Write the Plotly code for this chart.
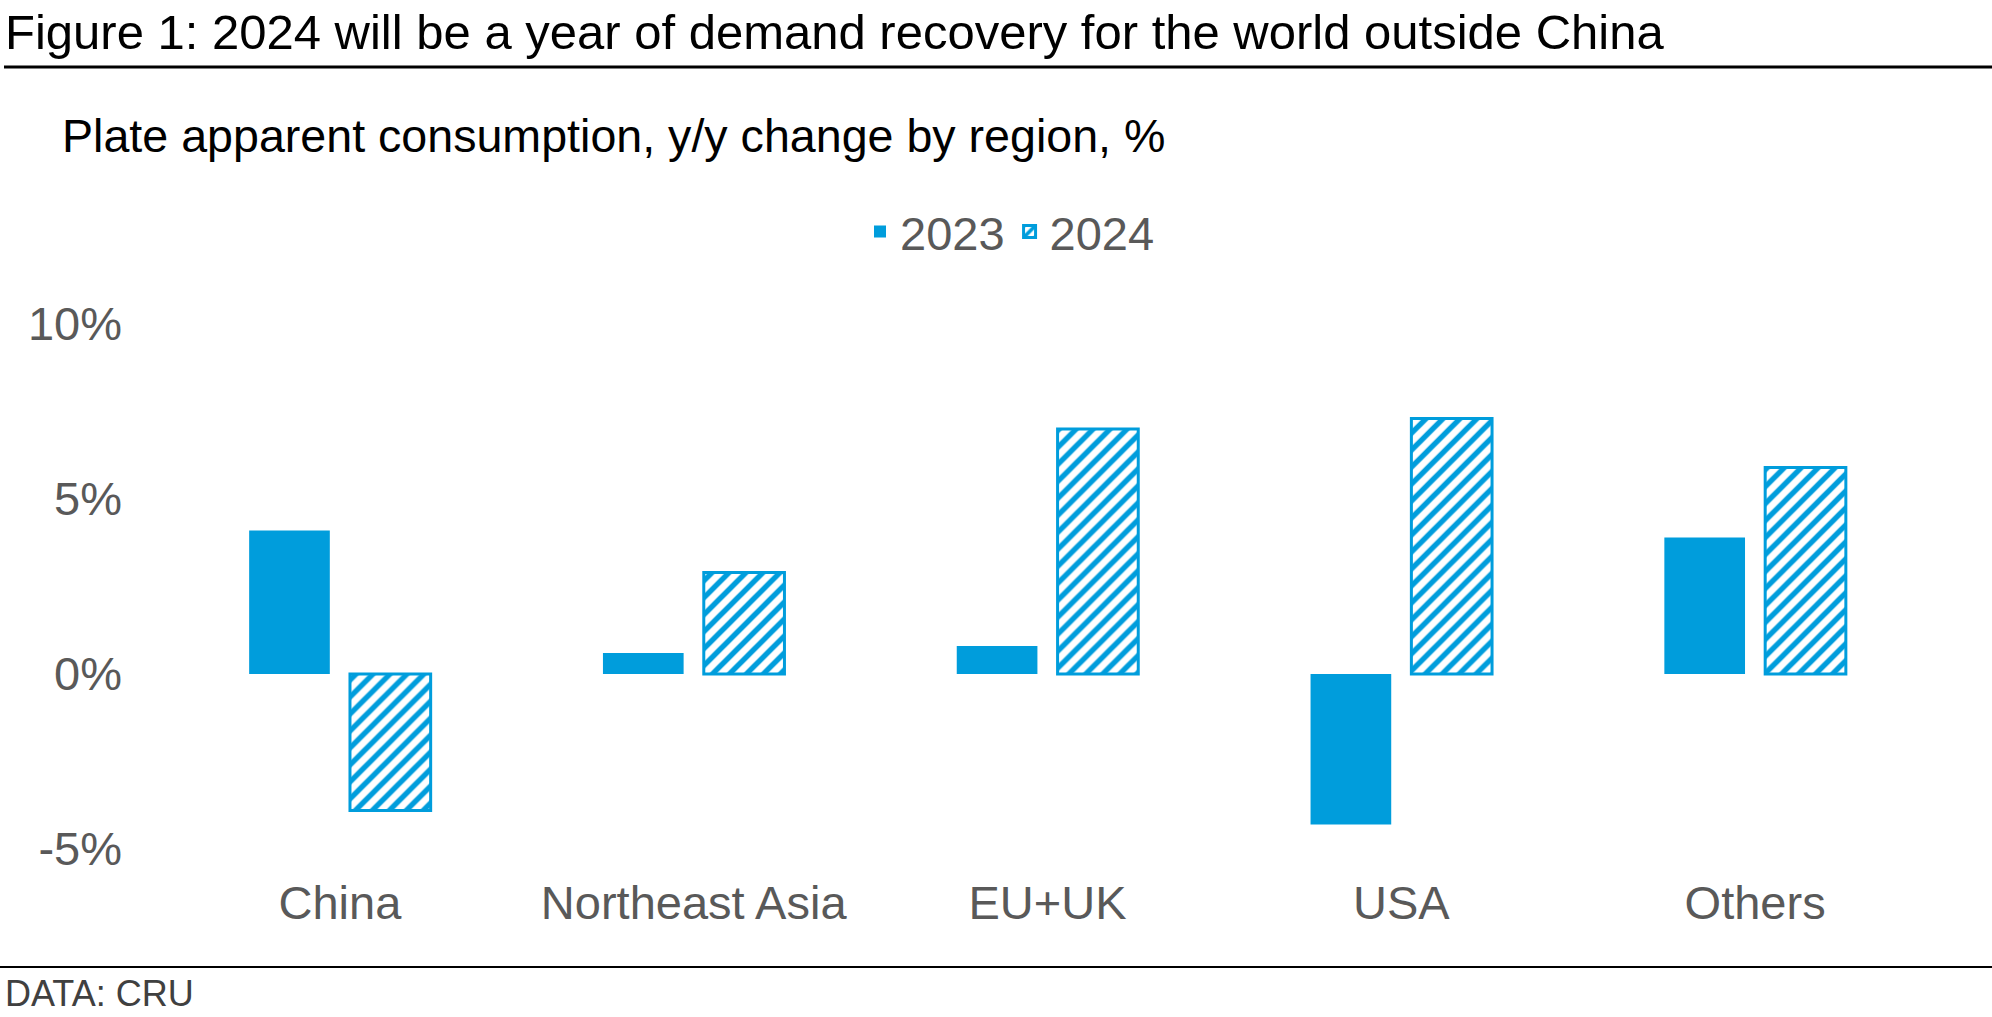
import plotly.graph_objects as go

# Data
regions = ["China", "Northeast Asia", "EU+UK", "USA", "Others"]
change_2023 = [4.1, 0.6, 0.8, -4.3, 3.9]
change_2024 = [-3.9, 2.9, 7.0, 7.3, 5.9]
y_ticks = [-5, 0, 5, 10]
y_tick_labels = ["-5%", "0%", "5%", "10%"]

BLUE = "#009DDC"
GREY = "#595959"
FONT = "Liberation Sans, Arial, sans-serif"

W, H = 1992, 1017
# plot area in pixels
PL, PR, PT, PB = 163, 1932, 324, 849


def fx(px):
    return (px - PL) / (PR - PL)


def fy(py):
    return (PB - py) / (PB - PT)


fig = go.Figure()

fig.add_trace(go.Bar(
    x=regions, y=change_2023, name="2023",
    marker=dict(color=BLUE, line=dict(width=0)),
))

fig.add_trace(go.Bar(
    x=regions, y=change_2024, name="2024",
    marker=dict(
        color="white",
        line=dict(color=BLUE, width=3),
        pattern=dict(shape="/", fgcolor=BLUE, bgcolor="white", fgopacity=1,
                     size=12, solidity=0.45),
    ),
))

fig.update_layout(
    width=W, height=H, autosize=False,
    margin=dict(l=PL, r=W - PR, t=PT, b=H - PB, pad=0),
    paper_bgcolor="white", plot_bgcolor="white",
    font=dict(family=FONT, color=GREY),
    barmode="group", bargap=0.43, bargroupgap=0.2,
    showlegend=True,
    legend=dict(
        orientation="h", x=fx(1010), y=fy(232), xanchor="center", yanchor="middle",
        font=dict(size=47, color=GREY), bgcolor="rgba(0,0,0,0)",
    ),
    xaxis=dict(
        type="category", showgrid=False, zeroline=False, showline=False,
        ticks="", tickfont=dict(size=47, color=GREY), ticklabelstandoff=22,
    ),
    yaxis=dict(
        range=[-5, 10], tickvals=y_ticks, ticktext=y_tick_labels,
        showgrid=False, zeroline=False, showline=False, ticks="",
        tickfont=dict(size=47, color=GREY), ticklabelstandoff=40,
    ),
)

fig.add_annotation(
    text="Figure 1: 2024 will be a year of demand recovery for the world outside China",
    xref="paper", yref="paper", x=fx(3), y=fy(32), xanchor="left", yanchor="middle",
    showarrow=False, font=dict(size=49, color="black"),
)
fig.add_annotation(
    text="Plate apparent consumption, y/y change by region, %",
    xref="paper", yref="paper", x=fx(60), y=fy(136), xanchor="left", yanchor="middle",
    showarrow=False, font=dict(size=46.6, color="black"),
)
fig.add_annotation(
    text="DATA: CRU",
    xref="paper", yref="paper", x=fx(3), y=fy(993), xanchor="left", yanchor="middle",
    showarrow=False, font=dict(size=36, color="#404040"),
)

# rules under the title and above the source
fig.add_shape(type="line", xref="paper", yref="paper",
              x0=fx(4), x1=fx(W), y0=fy(67), y1=fy(67),
              line=dict(color="black", width=3))
fig.add_shape(type="line", xref="paper", yref="paper",
              x0=fx(0), x1=fx(W), y0=fy(967), y1=fy(967),
              line=dict(color="black", width=2))

# drop the browser's default 8px body margin so the figure sits at the page corner
fig.write_html("out.html", config={"displayModeBar": False},
               post_script="document.body.style.margin='0';")
